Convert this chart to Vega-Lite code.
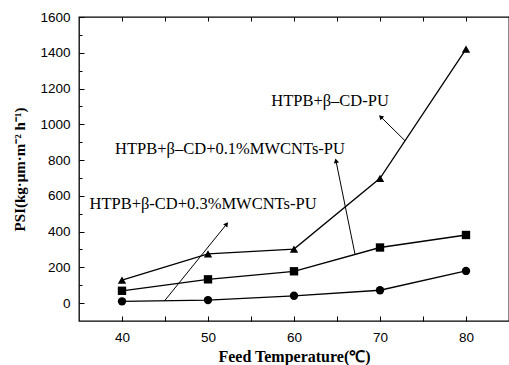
{
  "$schema": "https://vega.github.io/schema/vega-lite/v6.json",
  "width": 430,
  "height": 304,
  "autosize": {"type": "none"},
  "padding": {"left": 79, "top": 17, "right": 0, "bottom": 44},
  "background": "white",
  "config": {
    "view": {"stroke": "black", "strokeWidth": 1.3},
    "axis": {"grid": false, "domain": false, "labelOverlap": false, "tickColor": "black", "tickWidth": 1, "labelColor": "black", "labelFont": "Liberation Sans", "labelFontSize": 13.5, "titleColor": "black", "titleFont": "Liberation Serif", "titleFontWeight": "bold", "titleFontSize": 15}
  },
  "datasets": {
    "series": [
      {"temp": 40, "psi": 128, "sample": "HTPB+β–CD-PU"},
      {"temp": 50, "psi": 275, "sample": "HTPB+β–CD-PU"},
      {"temp": 60, "psi": 302, "sample": "HTPB+β–CD-PU"},
      {"temp": 70, "psi": 698, "sample": "HTPB+β–CD-PU"},
      {"temp": 80, "psi": 1420, "sample": "HTPB+β–CD-PU"},
      {"temp": 40, "psi": 69, "sample": "HTPB+β–CD+0.1%MWCNTs-PU"},
      {"temp": 50, "psi": 133, "sample": "HTPB+β–CD+0.1%MWCNTs-PU"},
      {"temp": 60, "psi": 178, "sample": "HTPB+β–CD+0.1%MWCNTs-PU"},
      {"temp": 70, "psi": 311, "sample": "HTPB+β–CD+0.1%MWCNTs-PU"},
      {"temp": 80, "psi": 381, "sample": "HTPB+β–CD+0.1%MWCNTs-PU"},
      {"temp": 40, "psi": 10, "sample": "HTPB+β-CD+0.3%MWCNTs-PU"},
      {"temp": 50, "psi": 17, "sample": "HTPB+β-CD+0.3%MWCNTs-PU"},
      {"temp": 60, "psi": 41, "sample": "HTPB+β-CD+0.3%MWCNTs-PU"},
      {"temp": 70, "psi": 72, "sample": "HTPB+β-CD+0.3%MWCNTs-PU"},
      {"temp": 80, "psi": 180, "sample": "HTPB+β-CD+0.3%MWCNTs-PU"}
    ],
    "arrows": [
      {"id": "a1", "x0": 72.91, "y0": 908, "x1": 70.08, "y1": 1042},
      {"id": "a2", "x0": 67.09, "y0": 274, "x1": 64.88, "y1": 796},
      {"id": "a3", "x0": 44.92, "y0": 11, "x1": 52.17, "y1": 442}
    ],
    "labels": [
      {"text": "HTPB+β–CD-PU", "x": 64.19, "y": 1130},
      {"text": "HTPB+β–CD+0.1%MWCNTs-PU", "x": 52.56, "y": 861},
      {"text": "HTPB+β-CD+0.3%MWCNTs-PU", "x": 49.42, "y": 554}
    ]
  },
  "resolve": {"axis": {"x": "independent"}},
  "layer": [
    {
      "data": {"name": "series"},
      "mark": {"type": "line", "color": "black", "strokeWidth": 1.3},
      "encoding": {
        "x": {"field": "temp", "type": "quantitative", "scale": {"domain": [35, 85], "nice": false, "zero": false},
          "axis": {"orient": "bottom", "values": [40, 45, 50, 55, 60, 65, 70, 75, 80], "tickCount": 20,
            "labelExpr": "datum.value % 10 === 0 ? datum.label : ''",
            "tickSize": -5,
            "labelPadding": 14, "title": "Feed Temperature(℃)", "titleFontSize": 16, "titlePadding": 5}},
        "y": {"field": "psi", "type": "quantitative", "scale": {"domain": [-100, 1600], "nice": false, "zero": false},
          "axis": {"values": [0, 100, 200, 300, 400, 500, 600, 700, 800, 900, 1000, 1100, 1200, 1300, 1400, 1500, 1600], "tickCount": 40,
            "labelExpr": "datum.value % 200 === 0 ? datum.label : ''",
            "tickSize": {"condition": {"test": "datum.value % 200 === 0", "value": -5}, "value": -3},
            "labelPadding": 14, "format": "d", "title": "PSI(kg·μm·m⁻² h⁻¹)", "titlePadding": 12}},
        "detail": {"field": "sample"}
      }
    },
    {
      "data": {"name": "series"},
      "mark": {"type": "point", "filled": true, "color": "black", "opacity": 1, "size": 70},
      "encoding": {
        "x": {"field": "temp", "type": "quantitative", "axis": null},
        "y": {"field": "psi", "type": "quantitative"},
        "shape": {"field": "sample", "type": "nominal", "legend": null,
          "scale": {"domain": ["HTPB+β–CD-PU", "HTPB+β–CD+0.1%MWCNTs-PU", "HTPB+β-CD+0.3%MWCNTs-PU"], "range": ["triangle-up", "square", "circle"]}}
      }
    },
    {
      "data": {"name": "arrows"},
      "mark": {"type": "rule", "color": "black", "strokeWidth": 1},
      "encoding": {
        "x": {"field": "x0", "type": "quantitative", "axis": null},
        "y": {"field": "y0", "type": "quantitative"},
        "x2": {"field": "x1"},
        "y2": {"field": "y1"}
      }
    },
    {
      "data": {"name": "arrows"},
      "transform": [{"filter": "datum.id === 'a1'"}],
      "mark": {"type": "point", "shape": "triangle-up", "filled": true, "color": "black", "opacity": 1, "size": 28, "angle": 315},
      "encoding": {"x": {"field": "x1", "type": "quantitative", "axis": null}, "y": {"field": "y1", "type": "quantitative"}}
    },
    {
      "data": {"name": "arrows"},
      "transform": [{"filter": "datum.id === 'a2'"}],
      "mark": {"type": "point", "shape": "triangle-up", "filled": true, "color": "black", "opacity": 1, "size": 28, "angle": 348.5},
      "encoding": {"x": {"field": "x1", "type": "quantitative", "axis": null}, "y": {"field": "y1", "type": "quantitative"}}
    },
    {
      "data": {"name": "arrows"},
      "transform": [{"filter": "datum.id === 'a3'"}],
      "mark": {"type": "point", "shape": "triangle-up", "filled": true, "color": "black", "opacity": 1, "size": 28, "angle": 38.6},
      "encoding": {"x": {"field": "x1", "type": "quantitative", "axis": null}, "y": {"field": "y1", "type": "quantitative"}}
    },
    {
      "data": {"name": "labels"},
      "mark": {"type": "text", "font": "Liberation Serif", "fontSize": 16.5, "color": "black", "align": "center", "baseline": "middle"},
      "encoding": {
        "x": {"field": "x", "type": "quantitative",
          "axis": {"orient": "top", "values": [40, 45, 50, 55, 60, 65, 70, 75, 80], "tickCount": 20, "labels": false, "title": null, "tickSize": -4}},
        "y": {"field": "y", "type": "quantitative"},
        "text": {"field": "text"}
      }
    }
  ]
}
